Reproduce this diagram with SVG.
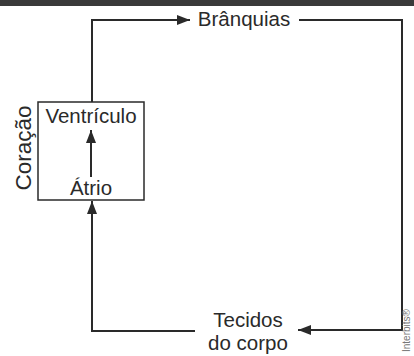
<svg xmlns="http://www.w3.org/2000/svg" width="414" height="356" viewBox="0 0 414 356">
<style>
.t{font-family:"Liberation Sans",Arial,sans-serif;font-size:20.5px;fill:#2a2a2a}
.ln{fill:none;stroke:#2a2a2a;stroke-width:2}
</style>
<defs>
<marker id="ah" viewBox="0 0 13 10" refX="13" refY="5" markerWidth="13" markerHeight="10" markerUnits="userSpaceOnUse" orient="auto">
<path d="M0,0 L13,5 L0,10 Z" fill="#2a2a2a"/>
</marker>
</defs>
<rect x="0" y="0" width="414" height="6" fill="#3a3a3a"/>
<g id="coracao">
<rect x="38" y="102" width="106" height="98" fill="#fff" stroke="#2a2a2a" stroke-width="1.5"/>
<text class="t" transform="translate(31,148) rotate(-90)" text-anchor="middle" style="font-size:22.5px">Coração</text>
</g>
<g id="ventriculo"><text class="t" x="91" y="123" text-anchor="middle">Ventrículo</text></g>
<g id="atrio"><text class="t" x="91" y="195" text-anchor="middle">Átrio</text></g>
<g id="branquias"><text class="t" x="244" y="26" text-anchor="middle">Brânquias</text></g>
<g id="tecidos"><text class="t" x="248" y="327" text-anchor="middle">Tecidos</text><text class="t" x="248" y="350" text-anchor="middle">do corpo</text></g>
<g id="connectors">
<path class="ln" d="M91,177 L91,130" marker-end="url(#ah)"/>
<path class="ln" d="M92,102 L92,20 L190,20" marker-end="url(#ah)"/>
<path class="ln" d="M299,20 L402,20 L402,330 L298,330" marker-end="url(#ah)"/>
<path class="ln" d="M195,331 L92,331 L92,201" marker-end="url(#ah)"/>
</g>
<text transform="translate(410,352) rotate(-90)" style="font-family:'Liberation Sans',Arial,sans-serif;font-size:10px;fill:#777">Interbits®</text>
</svg>
